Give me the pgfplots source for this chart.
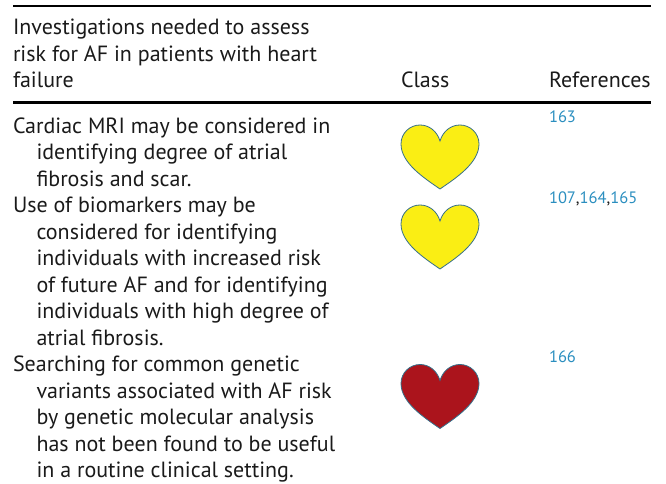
\documentclass[border=0pt]{standalone}
\usepackage{pgfplots}
\pgfplotsset{compat=1.18}
\usepackage{fontspec}
\setmainfont{PT Sans}
\definecolor{hy}{HTML}{FAEE14}
\definecolor{hr}{HTML}{AB141C}
\definecolor{he}{HTML}{356F8A}
\definecolor{rf}{HTML}{2A8EBF}
\definecolor{tx}{HTML}{1A1A1A}
\pgfdeclareplotmark{heart}{%
  \pgfpathmoveto{\pgfqpoint{0pt}{-32pt}}
  \pgfpathcurveto{\pgfqpoint{-16pt}{-21pt}}{\pgfqpoint{-39pt}{-6pt}}{\pgfqpoint{-39pt}{13pt}}
  \pgfpathcurveto{\pgfqpoint{-39pt}{24pt}}{\pgfqpoint{-30pt}{32pt}}{\pgfqpoint{-20pt}{32pt}}
  \pgfpathcurveto{\pgfqpoint{-11pt}{32pt}}{\pgfqpoint{-3pt}{26pt}}{\pgfqpoint{0pt}{16pt}}
  \pgfpathcurveto{\pgfqpoint{3pt}{26pt}}{\pgfqpoint{11pt}{32pt}}{\pgfqpoint{20pt}{32pt}}
  \pgfpathcurveto{\pgfqpoint{30pt}{32pt}}{\pgfqpoint{39pt}{24pt}}{\pgfqpoint{39pt}{13pt}}
  \pgfpathcurveto{\pgfqpoint{39pt}{-6pt}}{\pgfqpoint{16pt}{-21pt}}{\pgfqpoint{0pt}{-32pt}}
  \pgfpathclose
  \pgfusepathqfillstroke
}
\newcommand{\tl}[3]{\node[anchor=base west, inner sep=0pt, outer sep=0pt, text=tx, font=\fontsize{22}{24}\selectfont] at (axis cs:#1,#2) {#3};}
\newcommand{\rl}[3]{\node[anchor=base west, inner sep=0pt, outer sep=0pt, text=rf, font=\fontsize{16.5}{18}\selectfont] at (axis cs:#1,#2) {#3};}
\begin{document}
\begin{tikzpicture}[x=1pt,y=1pt]
\begin{axis}[
  anchor=south west, at={(0,0)},
  width=666pt, height=484pt, scale only axis,
  xmin=0, xmax=666, ymin=0, ymax=484, y dir=reverse,
  axis line style={draw=none}, ticks=none, clip=false,
]
\addplot[only marks, mark=heart, mark options={fill=hy, draw=he, line width=0.8pt}] coordinates {(440,157) (440,237)};
\addplot[only marks, mark=heart, mark options={fill=hr, draw=he, line width=0.8pt}] coordinates {(440,396.5)};
\draw[black, line width=2pt] (axis cs:13,6.5)--(axis cs:651,6.5);
\draw[black, line width=3pt] (axis cs:13,103)--(axis cs:651,103);
\tl{13}{35}{Investigations needed to assess}
\tl{13}{62}{risk for AF in patients with heart}
\tl{13}{88}{failure}
\tl{401}{88}{Class}
\tl{549}{88}{References}
\tl{13}{133}{Cardiac MRI may be considered in}
\tl{36.5}{159.5}{identifying degree of atrial}
\tl{36.5}{186}{fibrosis and scar.}
\tl{13}{212.5}{Use of biomarkers may be}
\tl{36.5}{239}{considered for identifying}
\tl{36.5}{265.5}{individuals with increased risk}
\tl{36.5}{292}{of future AF and for identifying}
\tl{36.5}{318.5}{individuals with high degree of}
\tl{36.5}{345}{atrial fibrosis.}
\tl{13}{371.5}{Searching for common genetic}
\tl{36.5}{398}{variants associated with AF risk}
\tl{36.5}{424.5}{by genetic molecular analysis}
\tl{36.5}{451}{has not been found to be useful}
\tl{36.5}{477.5}{in a routine clinical setting.}
\rl{549}{123}{163}
\rl{549}{203}{107\textcolor{tx}{,}164\textcolor{tx}{,}165}
\rl{549}{362}{166}
\end{axis}
\end{tikzpicture}
\end{document}
